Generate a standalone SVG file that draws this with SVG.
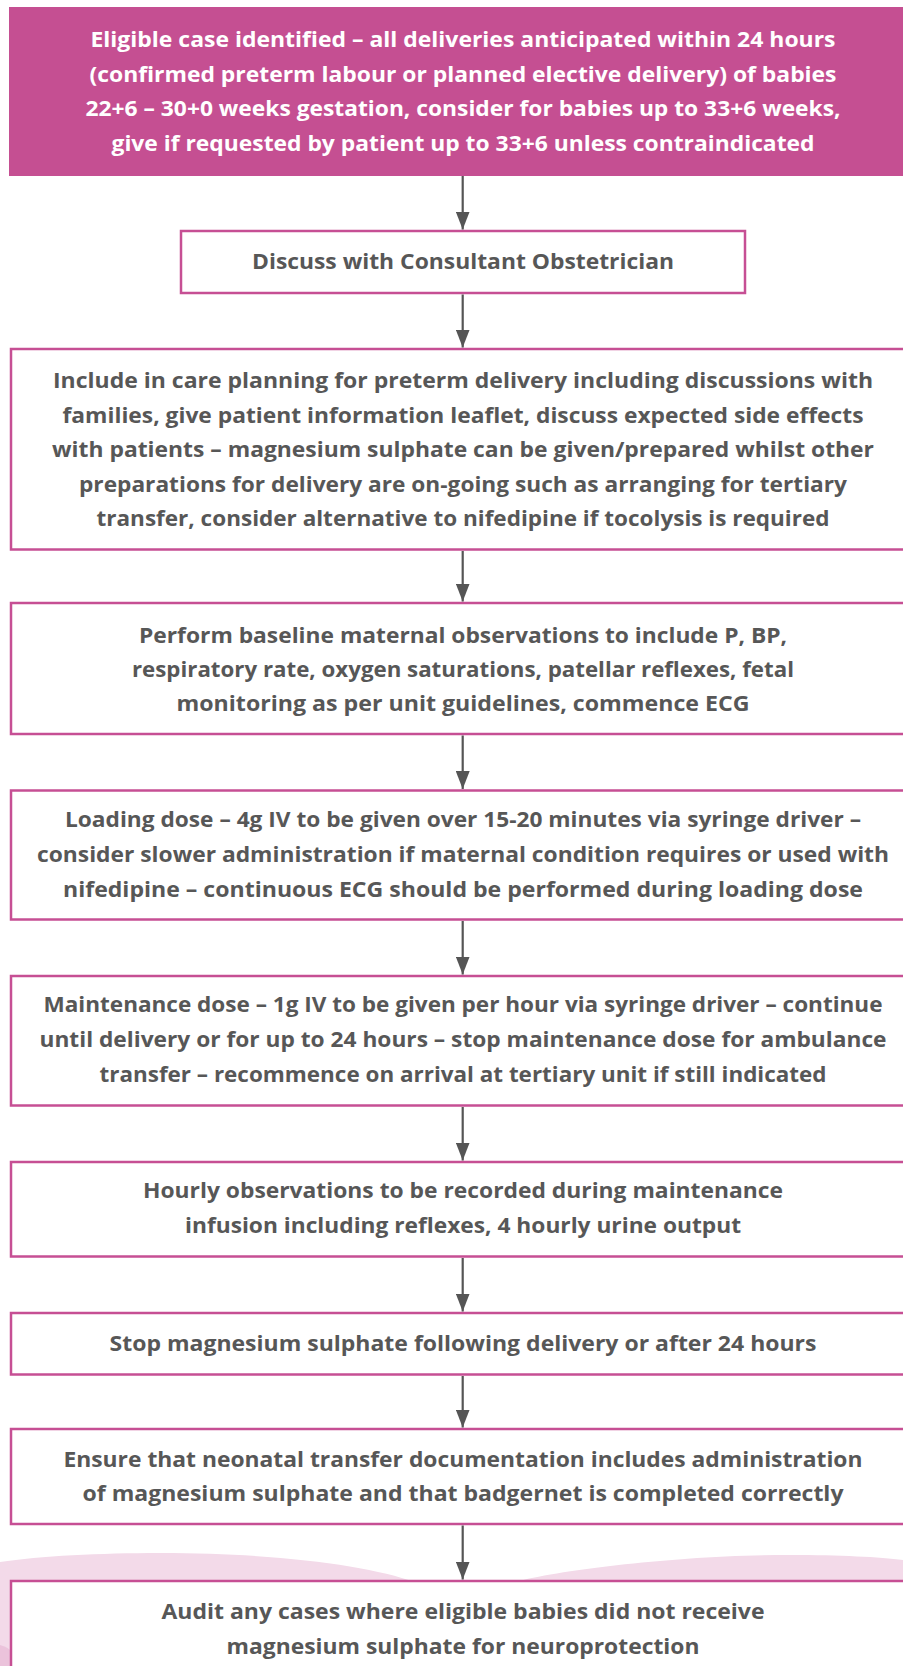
<svg xmlns="http://www.w3.org/2000/svg" width="903" height="1666" viewBox="0 0 903 1666">
<style>
.box{fill:#ffffff;stroke:#C64F94;stroke-width:2.5}
.hdr{fill:#C54F92}
text{font-family:"Open Sans","Liberation Sans",sans-serif;font-weight:700;font-size:21px;text-anchor:middle}
.t{fill:#575757}
.w{fill:#ffffff}
.conn line{stroke:#555555;stroke-width:2.2}
</style>
<defs>
<marker id="ah" markerUnits="userSpaceOnUse" markerWidth="18" markerHeight="14" refX="18" refY="7" orient="auto">
<path d="M0,0 L18,7 L0,14 Z" fill="#555555"/>
</marker>
</defs>
<rect width="903" height="1666" fill="#ffffff"/>
<g id="background">
<path d="M0,1562 C40,1556 100,1553 160,1553 C280,1553 370,1566 415,1582 L515,1582 C560,1570 680,1555 790,1555 C840,1555 880,1557 903,1560 L903,1666 L0,1666 Z" fill="#F3DAE9"/>
<path d="M0,1645 Q8,1647 12,1652 L12,1666 L0,1666 Z" fill="#EBC3DB"/>
</g>
<g id="n1">
<rect class="hdr" x="9" y="7" width="900" height="169"/>
<text class="w" x="463" y="47" textLength="745" lengthAdjust="spacingAndGlyphs">Eligible case identified – all deliveries anticipated within 24 hours</text>
<text class="w" x="463" y="81.6" textLength="747" lengthAdjust="spacingAndGlyphs">(confirmed preterm labour or planned elective delivery) of babies</text>
<text class="w" x="463" y="116.2" textLength="755" lengthAdjust="spacingAndGlyphs">22+6 – 30+0 weeks gestation, consider for babies up to 33+6 weeks,</text>
<text class="w" x="463" y="150.8" textLength="703" lengthAdjust="spacingAndGlyphs">give if requested by patient up to 33+6 unless contraindicated</text>
</g>
<g id="n2">
<rect class="box" x="181" y="231" width="564" height="62"/>
<text class="t" x="463" y="269" textLength="422" lengthAdjust="spacingAndGlyphs">Discuss with Consultant Obstetrician</text>
</g>
<g id="n3">
<rect class="box" x="11" y="349" width="900" height="200.5"/>
<text class="t" x="463" y="388" textLength="820" lengthAdjust="spacingAndGlyphs">Include in care planning for preterm delivery including discussions with</text>
<text class="t" x="463" y="422.5" textLength="801" lengthAdjust="spacingAndGlyphs">families, give patient information leaflet, discuss expected side effects</text>
<text class="t" x="463" y="457" textLength="822" lengthAdjust="spacingAndGlyphs">with patients – magnesium sulphate can be given/prepared whilst other</text>
<text class="t" x="463" y="491.5" textLength="768" lengthAdjust="spacingAndGlyphs">preparations for delivery are on-going such as arranging for tertiary</text>
<text class="t" x="463" y="526" textLength="733" lengthAdjust="spacingAndGlyphs">transfer, consider alternative to nifedipine if tocolysis is required</text>
</g>
<g id="n4">
<rect class="box" x="11" y="603" width="900" height="131"/>
<text class="t" x="463" y="642.5" textLength="648" lengthAdjust="spacingAndGlyphs">Perform baseline maternal observations to include P, BP,</text>
<text class="t" x="463" y="677" textLength="662" lengthAdjust="spacingAndGlyphs">respiratory rate, oxygen saturations, patellar reflexes, fetal</text>
<text class="t" x="463" y="711" textLength="573" lengthAdjust="spacingAndGlyphs">monitoring as per unit guidelines, commence ECG</text>
</g>
<g id="n5">
<rect class="box" x="11" y="790.5" width="900" height="129"/>
<text class="t" x="463" y="827" textLength="796" lengthAdjust="spacingAndGlyphs">Loading dose – 4g IV to be given over 15-20 minutes via syringe driver –</text>
<text class="t" x="463" y="861.5" textLength="852" lengthAdjust="spacingAndGlyphs">consider slower administration if maternal condition requires or used with</text>
<text class="t" x="463" y="896.5" textLength="800" lengthAdjust="spacingAndGlyphs">nifedipine – continuous ECG should be performed during loading dose</text>
</g>
<g id="n6">
<rect class="box" x="11" y="976" width="900" height="129.5"/>
<text class="t" x="463" y="1012" textLength="839" lengthAdjust="spacingAndGlyphs">Maintenance dose – 1g IV to be given per hour via syringe driver – continue</text>
<text class="t" x="463" y="1046.5" textLength="847" lengthAdjust="spacingAndGlyphs">until delivery or for up to 24 hours – stop maintenance dose for ambulance</text>
<text class="t" x="463" y="1081.5" textLength="727" lengthAdjust="spacingAndGlyphs">transfer – recommence on arrival at tertiary unit if still indicated</text>
</g>
<g id="n7">
<rect class="box" x="11" y="1162" width="900" height="94.5"/>
<text class="t" x="463" y="1198.3" textLength="640" lengthAdjust="spacingAndGlyphs">Hourly observations to be recorded during maintenance</text>
<text class="t" x="463" y="1233" textLength="556" lengthAdjust="spacingAndGlyphs">infusion including reflexes, 4 hourly urine output</text>
</g>
<g id="n8">
<rect class="box" x="11" y="1313" width="900" height="61.5"/>
<text class="t" x="463" y="1351" textLength="707" lengthAdjust="spacingAndGlyphs">Stop magnesium sulphate following delivery or after 24 hours</text>
</g>
<g id="n9">
<rect class="box" x="11" y="1429" width="900" height="95"/>
<text class="t" x="463" y="1466.5" textLength="799" lengthAdjust="spacingAndGlyphs">Ensure that neonatal transfer documentation includes administration</text>
<text class="t" x="463" y="1501" textLength="761" lengthAdjust="spacingAndGlyphs">of magnesium sulphate and that badgernet is completed correctly</text>
</g>
<g id="n10">
<rect class="box" x="11" y="1581" width="900" height="120"/>
<text class="t" x="463" y="1619" textLength="603" lengthAdjust="spacingAndGlyphs">Audit any cases where eligible babies did not receive</text>
<text class="t" x="463" y="1653.5" textLength="473" lengthAdjust="spacingAndGlyphs">magnesium sulphate for neuroprotection</text>
</g>
<g id="connectors" class="conn">
<line x1="462.7" y1="176" x2="462.7" y2="229.5" marker-end="url(#ah)"/>
<line x1="462.7" y1="294.5" x2="462.7" y2="347.5" marker-end="url(#ah)"/>
<line x1="462.7" y1="551" x2="462.7" y2="601.5" marker-end="url(#ah)"/>
<line x1="462.7" y1="735.5" x2="462.7" y2="789" marker-end="url(#ah)"/>
<line x1="462.7" y1="921" x2="462.7" y2="974.5" marker-end="url(#ah)"/>
<line x1="462.7" y1="1107" x2="462.7" y2="1160.5" marker-end="url(#ah)"/>
<line x1="462.7" y1="1258" x2="462.7" y2="1311.5" marker-end="url(#ah)"/>
<line x1="462.7" y1="1376" x2="462.7" y2="1427.5" marker-end="url(#ah)"/>
<line x1="462.7" y1="1525.5" x2="462.7" y2="1579.5" marker-end="url(#ah)"/>
</g>
</svg>
